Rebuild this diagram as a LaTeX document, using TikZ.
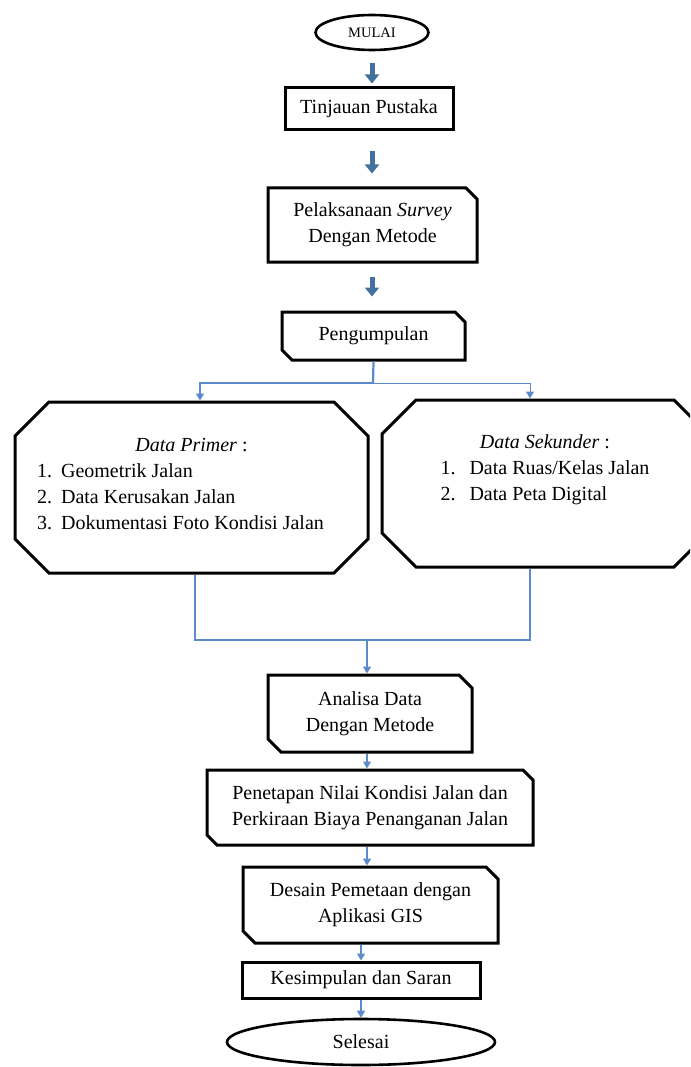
\documentclass[tikz,border=0pt]{standalone}
\usepackage{fontspec}
\setmainfont{Liberation Serif}
\usetikzlibrary{shapes.geometric,shapes.misc,arrows.meta}

\definecolor{arrowblue}{HTML}{41719C}
\definecolor{lineblue}{HTML}{5B8BC9}

\tikzset{
  box/.style={draw, line width=3pt, align=center, inner sep=0pt,
    font=\fontsize{20}{26}\selectfont},
  snipbox/.style={box, chamfered rectangle, chamfered rectangle xsep=5.5pt,
    chamfered rectangle ysep=5.5pt, chamfered rectangle corners={north east,south west}},
  octbox/.style={box, chamfered rectangle, chamfered rectangle xsep=17pt,
    chamfered rectangle ysep=17pt},
  oval/.style={box, ellipse, line width=2.6pt},
  bigarrow/.style={arrowblue, line width=5pt, -{Triangle[width=14pt,length=9pt]}},
  flow/.style={lineblue, line width=1.4pt, -{Triangle[width=8pt,length=7pt]}},
  flowline/.style={lineblue, line width=1.4pt}
}

\begin{document}
\begin{tikzpicture}[x=1pt,y=-1pt]
\useasboundingbox (0,0) rectangle (690,1067);
\clip (0,0) rectangle (690,1067);

% start
\node[oval, minimum width=113, minimum height=35, font=\fontsize{14.5}{16}\selectfont] (mulai) at (372,32.5) {MULAI};
\node[box, minimum width=168, minimum height=42] (tinjauan) at (369,109) {Tinjauan Pustaka};
\node[snipbox, chamfered rectangle corners=north east, minimum width=209, minimum height=74] (survey) at (372.5,225) {Pelaksanaan \textit{Survey}\\ Dengan Metode};
\node[snipbox, chamfered rectangle xsep=5pt, chamfered rectangle ysep=5pt, minimum width=183, minimum height=48] (kumpul) at (373.5,336) {Pengumpulan};

\draw[bigarrow, shorten <=12pt, shorten >=3pt] (mulai) -- (mulai |- tinjauan.north);
\draw[bigarrow, shorten <=20pt, shorten >=13pt] (mulai |- tinjauan.south) -- (mulai |- survey.north);
\draw[bigarrow, shorten <=13pt, shorten >=14pt] (mulai |- survey.south) -- (mulai |- kumpul.north);

% data
\node[octbox, minimum width=353, minimum height=171] (primer) at (191.5,487.5) {\textit{Data Primer} :\\
  \begin{tabular}[t]{@{}l@{\hspace{9pt}}l@{}}
  1. & Geometrik Jalan\\
  2. & Data Kerusakan Jalan\\
  3. & Dokumentasi Foto Kondisi Jalan
  \end{tabular}\hspace*{22pt}};
\node[octbox, minimum width=326, minimum height=167] (sekunder) at (545,483.5) {\textit{Data Sekunder} :\\
  \begin{tabular}[t]{@{}l@{\hspace{14pt}}l@{}}
  1. & Data Ruas/Kelas Jalan\\
  2. & Data Peta Digital
  \end{tabular}\\ \rule{0pt}{23pt}};

\coordinate (split) at (373,383);
\draw[flowline, line width=2.2pt] (kumpul.south) -- (split);
\draw[flow, line width=2pt] (split) -| ([xshift=8.5pt]primer.north);
\draw[flow, line width=1pt] (split) -| ([xshift=-15pt]sekunder.north);

% analisa
\node[snipbox, chamfered rectangle xsep=6.5pt, chamfered rectangle ysep=6.5pt, minimum width=204, minimum height=77] (analisa) at (370,713.5) {Analisa Data\\ Dengan Metode};
\node[snipbox, chamfered rectangle xsep=5pt, chamfered rectangle ysep=5pt, minimum width=326, minimum height=75] (penetapan) at (370,807.5) {Penetapan Nilai Kondisi Jalan dan\\ Perkiraan Biaya Penanganan Jalan};
\node[snipbox, chamfered rectangle xsep=6pt, chamfered rectangle ysep=6pt, minimum width=255, minimum height=76] (desain) at (370.5,905) {Desain Pemetaan dengan\\ Aplikasi GIS};
\node[box, minimum width=238, minimum height=36] (kesimpulan) at (361,980) {Kesimpulan dan Saran};
\node[oval, minimum width=268, minimum height=46] (selesai) at (361,1042) {Selesai};

\coordinate (merge) at (367,640);
\draw[flowline] ([xshift=3.5pt]primer.south) |- (merge) -| ([xshift=-15pt]sekunder.south);
\draw[flow] (merge) -- (merge |- analisa.north);
\draw[flow] (analisa.south -| merge) -- (merge |- penetapan.north);
\draw[flow] (penetapan.south -| merge) -- (merge |- desain.north);
\draw[flow] (kesimpulan |- desain.south) -- (kesimpulan.north);
\draw[flow] (kesimpulan.south) -- (selesai.north);
\end{tikzpicture}
\end{document}
